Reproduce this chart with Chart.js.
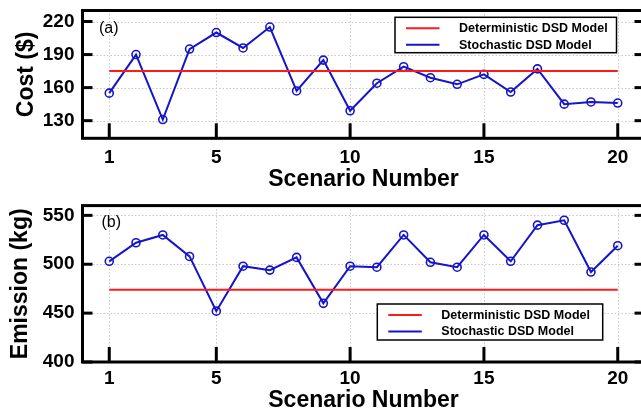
<!DOCTYPE html>
<html>
<head>
<meta charset="utf-8">
<script src="https://cdn.jsdelivr.net/npm/chart.js@4.4.0/dist/chart.umd.min.js"></script>
<style>
  html, body { margin: 0; padding: 0; background: #fff; overflow: hidden; }
  #wrap { position: relative; width: 641px; height: 413px; overflow: hidden; background: #fff; }
  .panel { position: absolute; left: 0; }
</style>
</head>
<body>
<div id="wrap">
  <div class="panel" style="top:0px"><canvas id="costChart" width="660" height="200"></canvas></div>
  <div class="panel" style="top:200px"><canvas id="emissionChart" width="660" height="213"></canvas></div>
</div>
<script>
var scenarios = [1, 2, 3, 4, 5, 6, 7, 8, 9, 10, 11, 12, 13, 14, 15, 16, 17, 18, 19, 20];
var costStochastic = [155, 190, 131, 195, 210, 196, 215, 157, 185, 139, 164, 179, 169, 163, 172, 156, 177, 145, 147, 146];
var costDeterministic = 175;
var emissionStochastic = [503, 522, 530, 508, 452, 498, 494, 507, 460, 498, 497, 530, 502, 497, 530, 503, 540, 545, 492, 519];
var emissionDeterministic = 474;

var scenarioTicks = [1, 5, 10, 15, 20];
var costTicks = [130, 160, 190, 220];
var emissionTicks = [400, 450, 500, 550];
var seriesLabels = ["Deterministic DSD Model", "Stochastic DSD Model"];

var FONT = 'Arial, "Liberation Sans", sans-serif';
var BLUE = '#1515c8';
var RED = '#ff1a1a';

// dotted grid, boxed axes with inward ticks, framed legend and panel tag
const axesFrame = {
  id: 'axesFrame',
  beforeDatasetsDraw: function (chart) {
    const ctx = chart.ctx;
    const area = chart.chartArea;
    const xs = chart.scales.x, ys = chart.scales.y;
    ctx.save();
    ctx.strokeStyle = '#c8c8c8';
    ctx.lineWidth = 1;
    ctx.setLineDash([1.5, 2]);
    xs.ticks.forEach(function (t) {
      const px = Math.round(xs.getPixelForValue(t.value)) + 0.5;
      ctx.beginPath(); ctx.moveTo(px, area.top); ctx.lineTo(px, area.bottom); ctx.stroke();
    });
    ys.ticks.forEach(function (t) {
      const py = Math.round(ys.getPixelForValue(t.value)) + 0.5;
      ctx.beginPath(); ctx.moveTo(area.left, py); ctx.lineTo(area.right, py); ctx.stroke();
    });
    ctx.restore();
  },
  afterDraw: function (chart, args, opts) {
    const ctx = chart.ctx;
    const area = chart.chartArea;
    const xs = chart.scales.x, ys = chart.scales.y;
    ctx.save();
    ctx.strokeStyle = '#000';
    ctx.lineWidth = 3;
    ctx.setLineDash([]);
    xs.ticks.forEach(function (t) {
      const px = xs.getPixelForValue(t.value);
      ctx.beginPath(); ctx.moveTo(px, area.bottom); ctx.lineTo(px, area.bottom - 15); ctx.stroke();
    });
    ys.ticks.forEach(function (t) {
      const py = ys.getPixelForValue(t.value);
      ctx.beginPath(); ctx.moveTo(area.left, py); ctx.lineTo(area.left + 10, py); ctx.stroke();
      ctx.beginPath(); ctx.moveTo(area.right, py); ctx.lineTo(area.right - 10, py); ctx.stroke();
    });
    ctx.strokeRect(area.left, area.top, area.right - area.left, area.bottom - area.top);

    // panel tag
    ctx.fillStyle = '#000';
    ctx.font = '16px ' + FONT;
    ctx.textAlign = 'left';
    ctx.textBaseline = 'middle';
    ctx.fillText(opts.tag, opts.tagX, opts.tagY);

    // legend box
    const lg = opts.legend;
    ctx.fillStyle = '#fff';
    ctx.fillRect(lg.x, lg.y, lg.w, lg.h);
    ctx.lineWidth = 1.5;
    ctx.strokeRect(lg.x, lg.y, lg.w, lg.h);
    ctx.font = 'bold 12.5px ' + FONT;
    chart.data.datasets.forEach(function (ds, i) {
      const rowY = lg.y + 11 + i * 16.5;
      ctx.strokeStyle = ds.borderColor;
      ctx.lineWidth = 2;
      ctx.beginPath(); ctx.moveTo(lg.x + 11, rowY); ctx.lineTo(lg.x + 44.5, rowY); ctx.stroke();
      ctx.fillStyle = '#000';
      ctx.fillText(ds.label, lg.x + 64, rowY + 0.5);
    });
    ctx.restore();
  }
};

function makePanel(canvasId, values, level, yMin, yMax, yTicks, yTitle, layout) {
  var stochastic = scenarios.map(function (s, i) { return { x: s, y: values[i] }; });
  var deterministic = [
    { x: scenarios[0], y: level },
    { x: scenarios[scenarios.length - 1], y: level }
  ];

  return new Chart(document.getElementById(canvasId).getContext('2d'), {
    type: 'line',
    data: {
      datasets: [{
        label: seriesLabels[0],
        data: deterministic,
        borderColor: RED,
        borderWidth: 2,
        pointRadius: 0,
        fill: false
      }, {
        label: seriesLabels[1],
        data: stochastic,
        borderColor: BLUE,
        borderWidth: 2,
        pointRadius: 4,
        pointBorderWidth: 1.6,
        pointBorderColor: BLUE,
        pointBackgroundColor: 'rgba(0,0,0,0)',
        tension: 0,
        fill: false
      }]
    },
    options: {
      responsive: false,
      animation: false,
      layout: { padding: layout.padding },
      plugins: {
        legend: { display: false },
        tooltip: { enabled: false },
        axesFrame: layout.frame
      },
      scales: {
        x: {
          type: 'linear',
          min: 0,
          max: 21,
          afterBuildTicks: function (scale) {
            scale.ticks = scenarioTicks.map(function (v) { return { value: v }; });
          },
          afterFit: function (scale) {
            scale.height = layout.xHeight;
            scale.paddingLeft = 0;
            scale.paddingRight = 0;
          },
          grid: { display: false, drawTicks: false },
          border: { display: false },
          ticks: {
            color: '#000',
            font: { family: FONT, size: 19, weight: 'bold' },
            padding: layout.xTickPad,
            maxRotation: 0,
            autoSkip: false
          },
          title: {
            display: true,
            text: 'Scenario Number',
            color: '#000',
            font: { family: FONT, size: 23, weight: 'bold', lineHeight: 1 },
            padding: { top: 0, bottom: layout.xTitlePad }
          }
        },
        y: {
          min: yMin,
          max: yMax,
          afterBuildTicks: function (scale) {
            scale.ticks = yTicks.map(function (v) { return { value: v }; });
          },
          afterFit: function (scale) {
            scale.width = 82.5;
            scale.paddingTop = 0;
            scale.paddingBottom = 0;
          },
          grid: { display: false, drawTicks: false },
          border: { display: false },
          ticks: {
            color: '#000',
            font: { family: FONT, size: 19, weight: 'bold' },
            padding: 8
          },
          title: {
            display: true,
            text: yTitle,
            color: '#000',
            font: { family: FONT, size: 23, weight: 'bold', lineHeight: 1 },
            padding: { top: layout.yTitlePad, bottom: 0 }
          }
        }
      }
    },
    plugins: [axesFrame]
  });
}

makePanel('costChart', costStochastic, costDeterministic, 114, 230, costTicks, 'Cost ($)', {
  padding: { top: 10.5, right: 15.5, bottom: 0, left: 0 },
  xHeight: 61.7,
  xTickPad: 8.5,
  xTitlePad: 9.3,
  yTitlePad: 15.5,
  frame: { tag: '(a)', tagX: 99, tagY: 29, legend: { x: 395, y: 17.3, w: 221.5, h: 35.4 } }
});

makePanel('emissionChart', emissionStochastic, emissionDeterministic, 400, 560, emissionTicks, 'Emission (kg)', {
  padding: { top: 3.2, right: 15.5, bottom: 0, left: 0 },
  xHeight: 51,
  xTickPad: 5.1,
  xTitlePad: 1.3,
  yTitlePad: 9.3,
  frame: { tag: '(b)', tagX: 101.5, tagY: 23, legend: { x: 377.3, y: 104, w: 225.4, h: 36 } }
});
</script>
</body>
</html>
